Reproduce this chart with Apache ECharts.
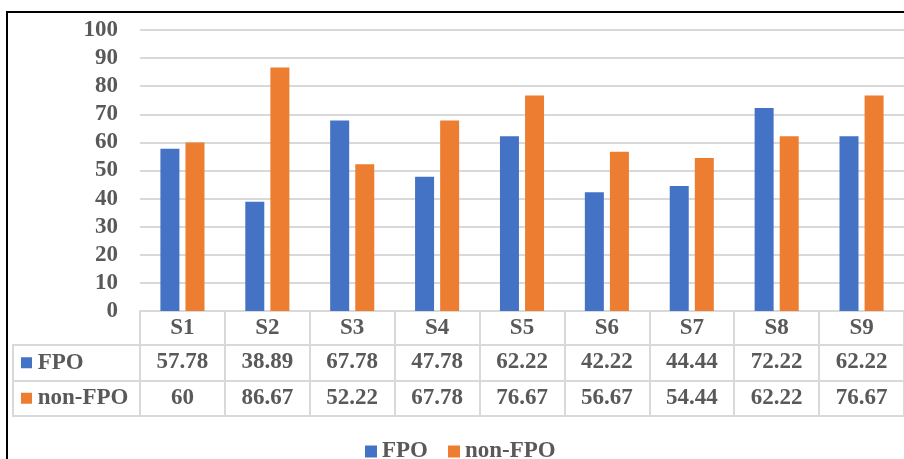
<!DOCTYPE html>
<html><head><meta charset="utf-8">
<script src="https://cdn.jsdelivr.net/npm/echarts@6/dist/echarts.min.js"></script>
<style>html,body{margin:0;padding:0;background:#fff}#c{width:904px;height:459px}</style>
</head><body><div id="c"></div>
<script>
const categories = ['S1','S2','S3','S4','S5','S6','S7','S8','S9'];
const fpo = [57.78,38.89,67.78,47.78,62.22,42.22,44.44,72.22,62.22];
const nonFpo = [60,86.67,52.22,67.78,76.67,56.67,54.44,62.22,76.67];
const seriesNames = ['FPO','non-FPO'];
const yTicks = {min:0,max:100,interval:10};

const FONT = "'Liberation Serif','Times New Roman',serif";
const TXT = '#595959';
const LINE = '#d9d9d9';
const BLUE = '#4472C4', ORANGE = '#ED7D31';
const lbl = {fontFamily:FONT,fontWeight:'bold',fontSize:23,color:TXT};

const chart = echarts.init(document.getElementById('c'));
function rowAxis(offset, tickLen, formatter, showLabel){
  return {
    type:'category', gridIndex:0, position:'bottom', offset:offset, data:categories,
    axisLine:{show:true,lineStyle:{color:LINE,width:2}},
    axisTick:{show:tickLen>0,length:tickLen,lineStyle:{color:LINE,width:2}},
    axisLabel:Object.assign({show:showLabel,margin:17,verticalAlign:'middle',formatter:formatter,interval:0},lbl),
    splitLine:{show:false}
  };
}
chart.setOption({
  animation:false,
  graphic:[{type:'rect',shape:{x:7,y:12,width:1000,height:1000},style:{fill:'none',stroke:'#000',lineWidth:2},silent:true}],
  legend:{data:seriesNames,left:360,top:435,icon:'rect',itemWidth:12,itemHeight:12,itemGap:20,
    textStyle:Object.assign({},lbl)},
  grid:[
    {left:140,top:30,width:771,height:281},
    {left:13,top:345,width:127,height:71,show:true,borderColor:LINE,borderWidth:2}
  ],
  xAxis:[
    rowAxis(0,33,null,true),
    rowAxis(34,36,(v,i)=>String(fpo[i]),true),
    rowAxis(70,35,(v,i)=>String(nonFpo[i]),true),
    rowAxis(105,0,null,false),
    {type:'value',gridIndex:1,show:false,min:0,max:1}
  ],
  yAxis:[
    {type:'value',gridIndex:0,min:yTicks.min,max:yTicks.max,interval:yTicks.interval,
     axisLine:{show:false},axisTick:{show:false},
     axisLabel:Object.assign({margin:22},lbl),
     splitLine:{lineStyle:{color:LINE,width:2}}},
    {type:'category',gridIndex:1,data:seriesNames,inverse:true,
     axisLine:{show:false},axisTick:{show:false},
     splitLine:{show:true,lineStyle:{color:LINE,width:2}},
     axisLabel:Object.assign({inside:true,margin:8,verticalAlign:'middle',
       formatter:(v,i)=>'{'+(i===0?'b':'o')+'|} '+v,
       rich:{b:{width:11,height:11,backgroundColor:BLUE},o:{width:11,height:11,backgroundColor:ORANGE}}},lbl)}
  ],
  series:[
    {name:seriesNames[0],type:'bar',data:fpo,barWidth:19,barGap:'32%',itemStyle:{color:BLUE}},
    {name:seriesNames[1],type:'bar',data:nonFpo,barWidth:19,barGap:'32%',itemStyle:{color:ORANGE}}
  ]
});
</script></body></html>
